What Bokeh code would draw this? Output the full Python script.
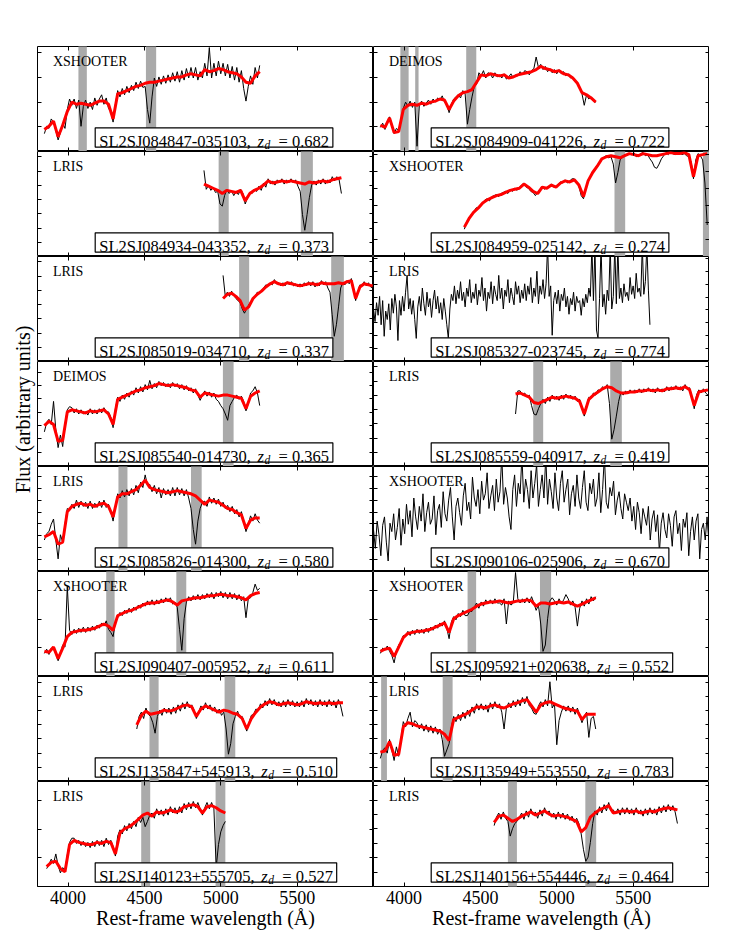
import math
from bokeh.plotting import figure
from bokeh.models import LinearAxis, FixedTicker, Label, BoxAnnotation, Range1d
from bokeh.layouts import gridplot, row
from bokeh.embed import file_html
from bokeh.resources import INLINE

FONT = "Liberation Serif"

# ---------------- data ----------------
lens_names = ["SL2SJ084847-035103", "SL2SJ084909-041226", "SL2SJ084934-043352", "SL2SJ084959-025142",
              "SL2SJ085019-034710", "SL2SJ085327-023745", "SL2SJ085540-014730", "SL2SJ085559-040917",
              "SL2SJ085826-014300", "SL2SJ090106-025906", "SL2SJ090407-005952", "SL2SJ095921+020638",
              "SL2SJ135847+545913", "SL2SJ135949+553550", "SL2SJ140123+555705", "SL2SJ140156+554446"]
instruments = ["XSHOOTER", "DEIMOS", "LRIS", "XSHOOTER", "LRIS", "LRIS", "DEIMOS", "LRIS",
               "LRIS", "XSHOOTER", "XSHOOTER", "XSHOOTER", "LRIS", "LRIS", "LRIS", "LRIS"]
z_d = ["0.682", "0.722", "0.373", "0.274", "0.337", "0.774", "0.365", "0.419",
       "0.580", "0.670", "0.611", "0.552", "0.510", "0.783", "0.527", "0.464"]

# first wavelength (Angstrom) and sampling of the observed (black) and model (red) spectra
wave_start = [3845, 3845, 4890, 4395, 5015, 3800, 3845, 4730, 3845, 3800, 3845, 3845, 4450, 3845, 3860, 4590]
obs_step = [15, 15, 15, 15, 14, 10, 15, 15, 15, 12, 15, 15, 15, 15, 15, 15]
mod_step = [30, 30, 30, 30, 28, 0, 30, 30, 30, 0, 30, 30, 30, 30, 30, 30]

obs_084847 = [17, 24, 22, 31, 28, 20, 11, 18, 27, 22, 40, 50, 44, 50, 41, 49, 24, 43, 49, 41, 47, 40, 51, 44,
              50, 54, 45, 51, 41, 38, 28, 45, 58, 52, 60, 54, 62, 56, 63, 58, 66, 60, 67, 61, 62, 40, 27, 52,
              70, 62, 71, 64, 72, 65, 73, 66, 75, 67, 76, 66, 77, 68, 79, 70, 80, 70, 80, 68, 76, 70, 84, 72,
              99, 70, 84, 72, 86, 74, 84, 72, 83, 70, 81, 68, 80, 66, 77, 60, 48, 62, 72, 64, 80, 70, 82]
mod_084847 = [21, 24, 29, 14, 25, 38, 47, 45, 46, 45, 44, 46, 48, 48, 45, 31, 55, 56, 58, 60, 62, 63, 65, 66,
              66, 67, 68, 69, 70, 71, 71, 73, 74, 73, 72, 78, 76, 77, 79, 78, 76, 75, 74, 71, 66, 65, 72, 76]
obs_084909 = [23, 27, 21, 28, 33, 26, 17, 22, 20, 30, 41, 47, 43, 48, 42, 47, 5, 44, 48, 43, 46, 49, 45, 50,
              47, 51, 49, 53, 47, 45, 37, 45, 50, 52, 54, 51, 58, 55, 26, 40, 52, 62, 64, 75, 72, 77, 70, 75,
              74, 70, 75, 71, 73, 70, 74, 69, 71, 74, 70, 73, 72, 76, 73, 77, 76, 73, 77, 79, 90, 80, 83, 78,
              81, 76, 79, 75, 78, 74, 78, 74, 76, 72, 74, 70, 71, 67, 66, 60, 55, 44, 54, 50, 52, 48, 47]
mod_084909 = [25, 23, 32, 18, 19, 40, 44, 45, 44, 46, 45, 47, 48, 50, 49, 40, 48, 53, 56, 57, 59, 66, 73, 72,
              74, 73, 72, 73, 70, 71, 73, 74, 75, 76, 78, 81, 79, 78, 76, 77, 74, 73, 70, 65, 56, 54, 51, 47]
obs_084934 = [82, 64, 68, 63, 66, 61, 62, 50, 48, 58, 64, 60, 63, 58, 62, 59, 64, 60, 50, 56, 61, 60, 64, 62,
              67, 63, 70, 66, 74, 69, 72, 68, 73, 70, 74, 69, 73, 70, 74, 70, 73, 67, 62, 40, 25, 40, 56, 68,
              72, 68, 73, 69, 74, 69, 73, 70, 76, 72, 76, 73, 60]
mod_084934 = [69, 67, 65, 63, 60, 63, 62, 61, 63, 53, 60, 63, 65, 68, 72, 70, 71, 72, 71, 72, 71, 70, 69, 71,
              70, 71, 72, 71, 73, 74, 75]
obs_084959 = [26, 33, 37, 40, 41, 46, 47, 48, 50, 54, 55, 53, 57, 58, 59, 57, 60, 61, 62, 60, 64, 62, 65, 63,
              66, 68, 70, 66, 65, 62, 61, 58, 61, 64, 67, 64, 66, 67, 69, 66, 67, 69, 71, 70, 73, 70, 72, 74,
              74, 70, 67, 58, 55, 64, 73, 76, 80, 84, 87, 90, 92, 95, 96, 94, 95, 88, 70, 80, 92, 95, 97, 96,
              98, 97, 99, 95, 96, 98, 99, 96, 97, 93, 90, 85, 84, 88, 93, 96, 99, 97, 100, 98, 97, 99, 99, 97,
              98, 96, 95, 90, 74, 92, 98, 96, 92, 70, 30]
mod_084959 = [28, 36, 42, 46, 51, 54, 56, 58, 59, 61, 63, 64, 65, 69, 66, 62, 60, 66, 65, 68, 66, 70, 72, 71,
              73, 68, 57, 72, 80, 86, 93, 95, 96, 95, 94, 96, 98, 97, 96, 98, 97, 96, 96, 97, 98, 99, 98, 98,
              99, 97, 76, 96, 97, 98]
obs_085019 = [82, 63, 66, 62, 67, 63, 60, 58, 56, 50, 46, 50, 54, 57, 59, 62, 66, 65, 68, 70, 73, 72, 75, 73,
              78, 74, 75, 72, 75, 72, 76, 73, 76, 72, 74, 71, 74, 71, 75, 72, 76, 72, 76, 71, 75, 72, 77, 73,
              76, 70, 66, 45, 24, 35, 52, 70, 75, 73, 77, 74, 79, 70, 58, 66, 73, 72, 76, 72, 75, 71, 70]
mod_085019 = [60, 64, 65, 62, 58, 49, 52, 60, 64, 67, 71, 74, 76, 74, 73, 75, 74, 73, 72, 73, 74, 74, 73, 75,
              74, 74, 74, 75, 74, 76, 77, 60, 71, 74, 73, 72]
obs_085327 = [50, 38, 56, 44, 62, 35, 58, 24, 48, 40, 55, 30, 60, 46, 64, 52, 20, 58, 44, 62,
              48, 66, 82, 50, 60, 45, 58, 40, 22, 52, 62, 48, 70, 55, 44, 66, 52, 60, 42, 58,
              68, 50, 62, 46, 56, 40, 60, 48, 35, 22, 50, 64, 58, 72, 55, 68, 60, 76, 58, 66,
              52, 70, 62, 78, 56, 66, 60, 74, 54, 68, 62, 80, 58, 70, 48, 66, 60, 76, 55, 72,
              64, 58, 82, 60, 70, 50, 68, 62, 78, 56, 70, 62, 54, 76, 64, 72, 56, 68, 60, 74,
              58, 72, 64, 80, 56, 70, 62, 86, 55, 72, 64, 78, 60, 74, 110, 62, 72, 25, 58, 66,
              55, 68, 48, 64, 58, 70, 52, 62, 45, 60, 54, 66, 48, 62, 56, 58, 44, 60, 52, 64,
              56, 70, 62, 110, 58, 110, 30, 22, 60, 110, 52, 64, 45, 68, 58, 110, 50, 62, 110, 55,
              110, 60, 70, 56, 74, 62, 66, 58, 80, 64, 72, 60, 84, 66, 70, 62, 110, 64, 76, 110,
              68, 35]
mod_085327 = None
obs_085540 = [33, 42, 45, 40, 62, 35, 18, 30, 19, 40, 54, 57, 56, 51, 55, 50, 54, 50, 52, 49, 55, 50, 54, 50,
              55, 51, 56, 52, 52, 47, 37, 55, 66, 62, 68, 64, 70, 66, 72, 68, 75, 70, 76, 71, 78, 73, 82, 74,
              79, 75, 81, 77, 80, 76, 79, 75, 80, 76, 79, 74, 78, 73, 77, 72, 75, 70, 74, 68, 63, 68, 72, 67,
              71, 66, 70, 64, 62, 58, 55, 50, 44, 58, 62, 66, 68, 64, 67, 62, 53, 60, 70, 72, 76, 70, 58]
mod_085540 = [39, 43, 40, 24, 25, 52, 54, 53, 52, 51, 53, 52, 53, 54, 50, 40, 64, 66, 68, 70, 72, 73, 75, 76,
              77, 79, 78, 77, 78, 77, 76, 75, 73, 72, 66, 70, 69, 68, 67, 68, 68, 67, 66, 65, 55, 67, 70, 72]
obs_085559 = [50, 72, 72, 68, 70, 66, 68, 58, 50, 49, 55, 60, 64, 60, 66, 62, 68, 64, 67, 63, 68, 64, 69, 65,
              68, 64, 67, 62, 64, 56, 48, 58, 66, 65, 70, 68, 73, 72, 76, 74, 78, 60, 26, 35, 48, 62, 71, 68,
              72, 69, 73, 70, 73, 70, 74, 70, 74, 71, 75, 71, 74, 70, 75, 71, 74, 71, 76, 72, 76, 73, 77, 73,
              76, 72, 78, 74, 75, 66, 55, 68, 73, 70, 74, 70, 68]
mod_085559 = [69, 70, 68, 66, 61, 60, 62, 64, 66, 65, 66, 67, 66, 65, 62, 50, 64, 68, 71, 74, 76, 75, 72, 70,
              70, 71, 71, 72, 72, 73, 72, 73, 72, 74, 74, 75, 74, 76, 73, 58, 71, 72, 73]
obs_085826 = [30, 36, 38, 45, 50, 30, 12, 35, 28, 45, 60, 58, 64, 60, 68, 61, 67, 62, 66, 60, 67, 60, 65, 61,
              67, 61, 68, 61, 64, 57, 48, 62, 74, 70, 77, 71, 78, 72, 79, 73, 82, 75, 85, 80, 92, 82, 83, 76,
              82, 74, 80, 70, 79, 73, 78, 72, 80, 72, 80, 73, 79, 72, 78, 70, 60, 40, 26, 48, 60, 66, 67, 62,
              71, 65, 70, 64, 69, 62, 66, 60, 63, 57, 62, 55, 59, 52, 57, 48, 38, 45, 53, 48, 55, 49, 46]
mod_085826 = [33, 35, 38, 26, 28, 57, 62, 64, 65, 63, 64, 62, 64, 65, 62, 52, 71, 74, 74, 76, 78, 82, 87, 80,
              78, 77, 76, 75, 76, 77, 76, 75, 74, 72, 68, 64, 68, 67, 66, 63, 60, 59, 56, 54, 41, 49, 51, 51]
obs_090106 = [40, 22, 48, 35, 15, 44, 52, 28, 10, 46, 38, 55, 30, 42, 60, 25, 50, 36, 64, 45,
              58, 33, 70, 52, 40, 62, 48, 74, 38, 56, 66, 45, 50, 72, 35, 58, 64, 42, 76, 55,
              48, 68, 80, 52, 30, 62, 70, 56, 44, 72, 84, 58, 66, 50, 90, 70, 62, 78, 55, 86,
              68, 74, 94, 60, 72, 82, 58, 88, 66, 76, 110, 64, 80, 70, 52, 40, 78, 92, 62, 84,
              74, 110, 66, 88, 78, 60, 96, 70, 84, 102, 62, 78, 92, 70, 110, 64, 88, 76, 60, 94,
              70, 58, 84, 96, 66, 78, 88, 54, 74, 82, 62, 92, 70, 60, 80, 96, 66, 58, 84, 74,
              88, 62, 70, 94, 56, 78, 110, 66, 60, 80, 72, 86, 54, 68, 76, 60, 50, 74, 66, 58,
              70, 48, 62, 40, 66, 56, 36, 60, 52, 44, 62, 30, 50, 58, 38, 54, 18, 46, 56, 40,
              32, 55, 44, 24, 52, 58, 36, 46, 20, 50, 42, 56, 15, 38, 52, 30, 48, 55, 12, 40,
              46, 30, 52, 28]
mod_090106 = None
obs_090407 = [22, 26, 21, 27, 26, 22, 15, 22, 30, 28, 86, 44, 40, 45, 41, 46, 42, 47, 42, 47, 43, 48, 44, 49,
              46, 51, 48, 53, 45, 42, 38, 52, 56, 61, 58, 63, 60, 65, 61, 66, 63, 68, 65, 70, 67, 72, 68, 73,
              68, 73, 69, 74, 70, 75, 71, 75, 69, 71, 66, 45, 25, 55, 71, 76, 72, 77, 73, 78, 73, 78, 74, 79,
              75, 80, 74, 80, 76, 81, 75, 80, 74, 80, 74, 79, 73, 78, 72, 76, 56, 74, 75, 80, 88, 82, 84]
mod_090407 = [24, 23, 28, 17, 27, 38, 42, 43, 44, 44, 45, 46, 48, 50, 48, 44, 58, 60, 62, 63, 65, 67, 69, 70,
              70, 71, 72, 73, 71, 68, 72, 73, 74, 75, 75, 76, 77, 77, 78, 78, 77, 77, 76, 75, 73, 77, 79, 80]
obs_095921 = [22, 27, 25, 29, 24, 20, 13, 24, 30, 33, 39, 38, 43, 39, 44, 40, 45, 41, 45, 41, 46, 42, 47, 44,
              49, 46, 51, 48, 53, 46, 36, 52, 57, 54, 60, 57, 63, 58, 58, 62, 62, 66, 70, 65, 71, 67, 73, 69,
              73, 69, 74, 70, 70, 68, 74, 50, 72, 68, 70, 99, 74, 70, 74, 70, 75, 70, 76, 70, 63, 68, 50, 24,
              30, 55, 72, 75, 72, 68, 74, 69, 73, 78, 74, 68, 72, 66, 48, 65, 72, 67, 74, 69, 76, 72, 76]
mod_095921 = [24, 26, 27, 19, 28, 37, 41, 42, 43, 43, 44, 45, 47, 49, 51, 42, 55, 58, 60, 62, 64, 67, 69, 70,
              71, 71, 72, 71, 70, 71, 72, 72, 73, 72, 67, 70, 70, 69, 70, 71, 70, 71, 69, 67, 69, 71, 73, 75]
obs_135847 = [50, 62, 66, 60, 70, 64, 62, 56, 46, 62, 68, 63, 70, 65, 70, 64, 71, 65, 73, 67, 75, 69, 76, 70,
              73, 68, 60, 66, 72, 68, 75, 69, 73, 67, 71, 65, 69, 63, 66, 50, 26, 36, 55, 62, 67, 61, 62, 56,
              48, 56, 63, 64, 69, 68, 74, 70, 77, 72, 79, 73, 78, 72, 76, 71, 77, 71, 78, 72, 77, 71, 76, 71,
              77, 71, 79, 73, 78, 72, 77, 71, 78, 72, 77, 71, 78, 72, 77, 70, 78, 72, 62]
mod_135847 = [54, 63, 67, 64, 65, 66, 68, 67, 68, 70, 72, 73, 71, 62, 69, 72, 70, 68, 66, 68, 67, 65, 64, 60,
              50, 60, 66, 71, 74, 76, 75, 73, 74, 75, 74, 73, 74, 76, 75, 74, 75, 74, 75, 74, 75, 75]
obs_135949 = [22, 30, 32, 27, 40, 30, 20, 33, 24, 40, 57, 52, 60, 66, 52, 58, 56, 50, 55, 48, 54, 47, 53, 46,
              52, 45, 50, 40, 24, 30, 36, 52, 62, 57, 64, 58, 66, 60, 68, 62, 71, 65, 74, 68, 74, 68, 73, 66,
              75, 69, 76, 70, 74, 66, 50, 70, 75, 70, 77, 71, 78, 72, 80, 74, 81, 72, 70, 65, 64, 72, 76, 71,
              78, 72, 95, 70, 74, 35, 58, 66, 72, 67, 72, 66, 71, 64, 70, 63, 56, 62, 66, 42, 60, 62, 50]
mod_135949 = [28, 29, 38, 25, 26, 52, 56, 55, 53, 52, 51, 50, 49, 48, 45, 39, 59, 61, 63, 65, 68, 71, 71, 70,
              72, 73, 71, 70, 72, 74, 75, 77, 78, 72, 66, 73, 75, 76, 74, 72, 70, 69, 68, 67, 59, 64, 64, 64]
obs_140123 = [17, 21, 26, 22, 31, 20, 13, 18, 15, 30, 42, 46, 46, 41, 44, 39, 43, 38, 42, 37, 43, 38, 44, 39,
              44, 38, 46, 40, 44, 38, 29, 48, 54, 50, 58, 53, 60, 55, 62, 57, 66, 61, 66, 57, 62, 68, 70, 65,
              74, 68, 73, 67, 74, 68, 76, 70, 75, 69, 76, 70, 79, 73, 80, 74, 81, 75, 80, 74, 68, 75, 80, 74,
              80, 74, 18, 40, 52, 58, 62]
mod_140123 = [19, 23, 24, 17, 14, 40, 44, 42, 41, 40, 40, 42, 41, 43, 42, 31, 51, 55, 57, 60, 64, 68, 70, 67,
              71, 70, 71, 73, 71, 72, 76, 77, 78, 76, 70, 76, 77, 75, 72, 70]
obs_140156 = [58, 66, 70, 64, 71, 65, 62, 48, 55, 60, 62, 66, 70, 64, 72, 66, 74, 68, 71, 65, 73, 67, 75, 69,
              72, 66, 70, 64, 71, 65, 70, 64, 69, 63, 67, 61, 65, 60, 50, 35, 24, 28, 42, 60, 72, 68, 76, 70,
              78, 72, 80, 72, 73, 69, 74, 68, 75, 69, 75, 69, 74, 68, 75, 69, 73, 67, 74, 68, 75, 69, 74, 68,
              76, 70, 77, 71, 78, 72, 77, 71, 60]
mod_140156 = [61, 67, 68, 65, 62, 64, 67, 69, 71, 68, 70, 72, 69, 67, 68, 67, 66, 64, 62, 52, 56, 66, 70, 73,
              75, 77, 70, 71, 72, 72, 71, 72, 70, 71, 72, 71, 73, 74, 75, 74, 73]

observed = [obs_084847, obs_084909, obs_084934, obs_084959, obs_085019, obs_085327, obs_085540, obs_085559,
            obs_085826, obs_090106, obs_090407, obs_095921, obs_135847, obs_135949, obs_140123, obs_140156]
models = [mod_084847, mod_084909, mod_084934, mod_084959, mod_085019, mod_085327, mod_085540, mod_085559,
          mod_085826, mod_090106, mod_090407, mod_095921, mod_135847, mod_135949, mod_140123, mod_140156]

# masked (grey) wavelength intervals, Angstrom
band_lo = [[4068, 4510], [3976, 4073, 4407], [4986, 5524], [5378, 5957], [5120, 5723], [], [5014],
           [4846, 5350], [4330, 4805], [], [4250, 4709], [4416, 4890], [4533, 5025], [3850, 4253],
           [4479, 4966], [4680, 5187]]
band_hi = [[4123, 4577], [4030, 4095, 4473], [5052, 5603], [5448, 6000], [5186, 5806], [], [5084],
           [4911, 5426], [4389, 4875], [], [4305, 4774], [4472, 4963], [4593, 5095], [3888, 4318],
           [4538, 5030], [4739, 5258]]

# y tick layout of each panel (first tick, spacing), in panel flux units
ytick_start = [0, 0, 0, 0, 0, 0.5, 0.8, 0, 0.6, 0.6, 0, 0, 0, 0, 0, 0]
ytick_step = [23.55, 23.55, 13.55, 16.2, 13.55, 12.15, 12.7, 13.55, 11.18, 11.18, 27.35, 27.35,
              13.5, 13.5, 27.35, 13.7]
xticks = [4000, 4500, 5000, 5500]
xlabel = "Rest-frame wavelength (\u00c5)"
ylabel = "Flux (arbitrary units)"

# ---------------- layout constants ----------------
FW, FH = 336, 105
X0, X1 = 3800, 6000
Y0, Y1 = 0, 100
PXX = FW / (X1 - X0)
PXY = FH / (Y1 - Y0)
TOP_B, BOT_B, LEFT_W = 46, 48, 37

# Times-like advance widths (per 1000 em) used to lay the label pieces out
ADV = {"S": 556, "L": 611, "J": 389, "-": 333, "+": 564, ",": 250, " ": 250, "=": 564, ".": 250}
def text_w(s, fs):
    return sum(ADV.get(c, 500) for c in s) * fs / 1000.0

def xdata(px):
    return X0 + px / PXX

def ydata(py):
    return Y0 + py / PXY

def add_axis(p, side, ticks, labeled=False):
    ax = LinearAxis(ticker=FixedTicker(ticks=ticks))
    ax.axis_line_color = None
    ax.major_tick_in = 4
    ax.major_tick_out = 0
    ax.minor_tick_line_color = None
    ax.major_tick_line_color = "black"
    ax.major_tick_line_width = 1
    if labeled:
        ax.major_label_text_font = FONT
        ax.major_label_text_font_size = "18px"
        ax.major_label_text_color = "black"
        ax.major_label_standoff = 4
        ax.axis_label = xlabel
        ax.axis_label_text_font = FONT
        ax.axis_label_text_font_size = "20px"
        ax.axis_label_text_font_style = "normal"
        ax.axis_label_text_color = "black"
        ax.axis_label_standoff = 0
    else:
        ax.major_label_text_font_size = "0px"
        ax.major_label_text_color = None
        ax.major_label_standoff = 0
    p.add_layout(ax, side)

figs = []
for i in range(16):
    col, rw = i % 2, i // 2
    p = figure(frame_width=FW, frame_height=FH, x_range=Range1d(X0, X1), y_range=Range1d(Y0, Y1),
               x_axis_type=None, y_axis_type=None, output_backend="svg", toolbar_location=None,
               min_border_left=0, min_border_right=0,
               min_border_top=TOP_B if rw == 0 else 0, min_border_bottom=BOT_B if rw == 7 else 0,
               outline_line_color="black", outline_line_width=1,
               background_fill_color="white", border_fill_color="white")
    yt = []
    v = ytick_start[i]
    while v <= Y1 + 1e-6:
        yt.append(v)
        v += ytick_step[i]
    add_axis(p, "left", yt)
    add_axis(p, "right", yt)
    add_axis(p, "above", xticks)
    add_axis(p, "below", xticks, labeled=(rw == 7))

    if band_lo[i]:
        p.quad(left=band_lo[i], right=band_hi[i], bottom=Y0 - 20, top=Y1 + 20,
               fill_color="#aaaaaa", line_color=None)
    obs = observed[i]
    wave = [wave_start[i] + obs_step[i] * k for k in range(len(obs))]
    p.line(wave, obs, line_color="black", line_width=1.0)
    if models[i] is not None:
        mod = models[i]
        mwave = [wave_start[i] + mod_step[i] * k for k in range(len(mod))]
        p.line(mwave, mod, line_color="#ff0000", line_width=3)

    p.add_layout(Label(x=xdata(15.4), y=ydata(FH - 15.3), text=instruments[i], text_font=FONT,
                       text_font_size="14px", text_color="black", text_baseline="alphabetic"))
    fs = 16.5
    tx = 61.7
    name = lens_names[i] + ","
    w1 = text_w(name, fs)
    zx = tx + w1 + 6.6
    ex = zx + 21.0
    rest = "= " + z_d[i]
    w3 = text_w(rest, fs)
    p.add_layout(BoxAnnotation(left=xdata(57.7), right=xdata(ex + w3 + 3.8), bottom=ydata(4.3), top=ydata(23.7),
                               fill_color="white", fill_alpha=1.0, line_color="black", line_alpha=1.0,
                               line_width=1.2))
    base = 10.3
    p.add_layout(Label(x=xdata(tx), y=ydata(base), text=name, text_font=FONT, text_font_size="16.5px",
                       text_color="black", text_baseline="alphabetic"))
    p.add_layout(Label(x=xdata(zx), y=ydata(base), text="z", text_font=FONT, text_font_size="16.5px",
                       text_font_style="italic", text_color="black", text_baseline="alphabetic"))
    p.add_layout(Label(x=xdata(zx + 7.0), y=ydata(base - 3.6), text="d", text_font=FONT,
                       text_font_size="11.5px", text_font_style="italic", text_color="black",
                       text_baseline="alphabetic"))
    p.add_layout(Label(x=xdata(ex), y=ydata(base), text=rest, text_font=FONT, text_font_size="16.5px",
                       text_color="black", text_baseline="alphabetic"))
    figs.append(p)

grid = gridplot(figs, ncols=2, toolbar_location=None)

H = TOP_B + 8 * FH + BOT_B
lab = figure(width=LEFT_W, height=H, x_range=Range1d(0, LEFT_W), y_range=Range1d(0, H),
             x_axis_type=None, y_axis_type=None, output_backend="svg", toolbar_location=None,
             min_border=0, outline_line_color=None, border_fill_color="white", background_fill_color="white")
lab.add_layout(Label(x=22.5, y=H - 409, text=ylabel, angle=math.pi / 2,
                     text_font=FONT, text_font_size="20px", text_color="black",
                     text_align="center", text_baseline="middle"))

layout = row(lab, grid)
open("out.html", "w").write(file_html(layout, INLINE))
